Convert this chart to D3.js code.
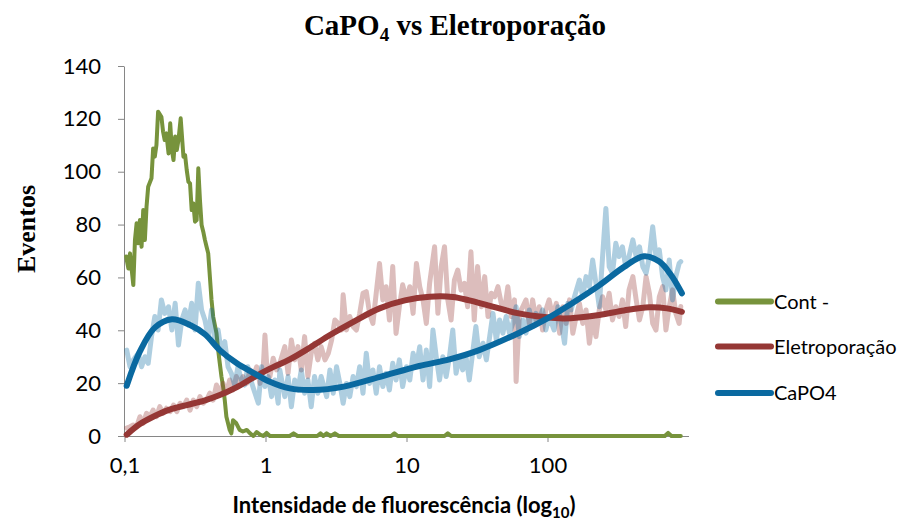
<!DOCTYPE html>
<html>
<head>
<meta charset="utf-8">
<script src="https://cdn.jsdelivr.net/npm/d3@7"></script>
<style>
  body { margin: 0; background: #fff; }
  svg { display: block; }
</style>
</head>
<body>
<div class="canvas"></div>
<script>
// channels: 256 per decade, channel 0 = 0,1
const contCh = [3,7,10,16,19,22,25,28,31,34,37,40,43,49,52,55,58,61,67,70,73,76,80,83,86,89,92,95,98,102,
  107,110,113,116,119,122,125,128,131,134,137,140,143,146,149,152,155,158,161,167,170,173,176,179,182,185,
  191,194,197,203,209,215,222,228,234,240,246,252,258,264,300,307,314,350,356,361,367,374,382,389,484,490,
  496,581,587,593,981,987,993,1010];
const contVal = [67.9,63.4,69.1,57.1,74.2,80.5,72.9,81.7,71.6,85.5,74.2,86.8,94.3,97.5,108.8,105.7,110.1,
  122.7,120.8,115.2,112.0,114.5,106.9,118.3,108.2,104.4,113.3,108.2,112.0,120.2,105.7,106.3,100.6,96.2,95.6,
  85.5,88.0,81.1,81.7,101.3,89.3,79.8,77.3,74.2,71.6,69.1,60.3,51.5,45.2,38.9,32.6,27.5,22.5,18.7,13.6,7.3,
  2.3,1.0,6.0,4.8,2.3,1.7,2.3,1.0,0,1.5,0.5,0,1.2,0,0,1,0,0,1,0,1,0,1,0,0,1,0,0,1,0,0,1.2,0,0];

const eletroCh = [4,10,16,22,28,34,40,46,52,58,64,70,76,83,89,95,101,107,113,119,125,131,137,143,149,155,
  161,167,173,179,185,191,197,203,209,215,222,228,234,240,246,252,255,258,264,270,276,
  282,291,297,303,309,315,321,327,333,339,345,351,357,364,370,376,382,388,394,397,403,409,415,421,427,433,
  439,445,451,457,463,469,475,481,487,493,499,505,512,518,524,530,536,
  542,548,554,563,569,575,581,587,593,599,605,611,617,623,629,635,641,648,654,660,666,672,678,684,690,696,
  702,708,711,717,723,729,735,741,747,753,759,765,
  771,777,784,790,796,802,808,814,820,826,832,838,844,850,856,862,868,874,880,886,892,898,904,910,916,923,
  929,935,941,947,953,959,965,971,977,983,989,995,1001,1007,1010];
const eletroVal = [3.0,3.5,4.2,3.5,7.3,4.8,8.6,7.3,9.8,7.3,11.1,8.6,10.5,9.2,11.7,9.2,12.4,11.1,13.6,9.8,
  13.6,11.1,14.9,12.4,13.6,16.2,13.6,19.3,16.2,19.9,16.2,21.2,17.4,22.5,19.9,22.5,19.9,25.0,22.5,26.2,
  19.9,26.2,38.2,27.5,22.5,29.4,25.0,
  27.5,33.8,23.7,36.3,28.8,33.8,25.0,37.6,22.5,31.3,35.1,28.8,33.8,28.8,31.3,36.3,43.9,42.6,40.1,53.4,
  40.1,45.2,41.4,40.1,46.4,54.0,54.6,46.4,42.6,54.0,65.3,51.5,56.5,43.9,64.1,38.8,48.9,57.2,51.5,56.5,
  46.4,65.3,56.5,
  51.5,42.6,57.8,71.6,46.4,64.1,71.6,51.5,43.9,59.0,62.8,55.2,57.8,48.9,69.7,43.9,64.1,48.9,60.3,45.2,
  54.0,52.7,56.5,50.2,47.7,56.5,45.2,51.5,20.6,46.4,48.9,51.5,42.6,51.5,43.9,48.9,40.1,47.7,
  51.5,45.2,50.2,38.9,48.9,42.6,51.5,38.9,45.2,50.2,42.6,47.7,35.1,45.2,37.6,47.7,52.7,47.7,54.0,43.9,
  48.9,45.2,51.5,41.4,55.3,60.3,51.5,43.9,48.9,60.3,54.0,42.6,40.1,52.7,56.5,40.1,48.9,55.3,46.4,42.6,49.0];

const capoCh = [4,10,16,25,31,37,43,49,55,61,67,73,80,86,92,98,104,110,116,122,128,134,140,146,152,158,
  164,170,176,182,188,194,200,206,212,218,224,231,237,243,249,255,261,267,273,279,
  282,291,297,303,309,315,321,327,333,339,345,351,357,367,373,379,385,391,397,403,409,415,421,427,433,439,
  445,451,457,463,469,475,481,487,493,499,505,512,518,524,530,536,
  542,548,554,560,566,572,578,584,590,596,602,608,614,620,626,632,638,644,651,657,663,669,675,681,687,693,
  699,705,711,717,723,729,735,741,747,753,759,765,
  771,780,787,793,799,805,811,817,826,832,838,844,850,856,862,868,874,880,886,892,898,904,910,916,923,929,
  935,941,947,953,959,965,971,977,983,989,995,1001,1007,1010];
const capoVal = [32.5,26.2,28.8,31.3,26.2,30.0,27.5,37.6,45.2,40.1,51.5,46.4,48.9,40.1,50.2,34.4,43.9,47.7,
  42.6,50.2,40.1,57.8,47.7,43.9,37.6,47.7,35.7,40.1,31.3,35.7,26.2,23.7,19.3,26.2,21.2,19.3,26.2,20.0,16.2,
  12.4,26.2,18.7,22.5,14.9,21.2,12.4,
  25.0,14.9,22.5,11.1,21.2,17.4,25.0,16.2,21.2,11.1,22.5,16.2,22.5,14.9,25.0,16.2,26.2,19.9,12.4,19.9,
  14.9,22.5,18.7,26.2,16.2,31.3,19.9,25.0,16.2,26.2,18.7,23.7,17.4,27.5,21.2,28.8,18.7,26.2,21.2,31.3,
  26.2,33.8,
  21.2,32.5,18.7,40.1,30.0,21.2,30.0,22.5,30.0,40.1,23.7,30.0,25.0,30.0,21.2,31.3,41.4,30.0,35.1,28.8,
  37.6,46.4,36.3,43.9,38.9,45.2,38.9,42.6,48.9,37.6,43.9,38.9,47.7,41.4,46.4,43.9,47.7,40.1,
  45.2,40.1,48.9,42.6,35.1,50.2,47.7,52.7,59.0,52.7,60.3,56.5,66.6,57.8,48.9,67.9,86.1,64.1,61.6,72.9,
  67.9,71.6,64.1,67.9,74.2,67.9,71.6,64.1,61.6,67.9,79.2,67.9,70.4,60.3,55.3,66.6,51.5,60.3,65.3,66.0];

// trend lines
const eletroTrendCh = [4,28,52,82,113,146,173,204,233,264,300,337,373,418,463,509,554,596,626,657,716,762,798,862,907,953,985,1012];
const eletroTrendVal = [0.5,4.5,7.3,10,11.7,13.5,15.5,18.5,22,25.5,29,33.5,38.2,43.5,48.3,51.3,52.7,52.6,51.3,49.6,46.4,45,44.5,45.8,47.5,48.7,48.3,47];
const capoTrendCh = [4,28,55,86,119,146,173,204,233,264,300,342,398,464,535,590,644,716,772,808,862,907,943,971,992,1012];
const capoTrendVal = [19,32,41,44.2,42,38.5,32.5,27.5,24,20.5,18,17.4,18.7,22.4,26.5,29,32.5,39,45,49.6,57,64,68,66,61,54];

const yTicks = [0,20,40,60,80,100,120,140];
const xTicks = [0.1,1,10,100];
const seriesNames = ["Cont -", "Eletroporação", "CaPO4"];
const colors = ["#77933c", "#953735", "#0a69a0"];

const svg = d3.select(".canvas").append("svg")
    .attr("width", 900)
    .attr("height", 522);

const x = d3.scaleLog().domain([0.1, 1000]).range([124.5, 688.5]);
const y = d3.scaleLinear().domain([0, 140]).range([436, 66]);
const chToI = ch => 0.1 * Math.pow(10, ch / 256);
const zip = (a, b) => a.map((c, i) => [c, b[i]]);

const line = d3.line()
    .x(d => x(chToI(d[0])))
    .y(d => y(d[1]));
const trend = d3.line()
    .curve(d3.curveCatmullRom.alpha(0.5))
    .x(d => x(chToI(d[0])))
    .y(d => y(d[1]));

// axes
const yAxis = svg.append("g")
    .attr("transform", "translate(124,0)")
    .call(d3.axisLeft(y).tickValues(yTicks).tickSize(6).tickSizeOuter(0).tickPadding(17));
const xAxis = svg.append("g")
    .attr("transform", "translate(0,436)")
    .call(d3.axisBottom(x).tickValues(xTicks).tickSize(6).tickSizeOuter(0).tickPadding(15)
        .tickFormat(d => d3.format("~g")(d).replace(".", ",")));
[yAxis, xAxis].forEach(g => {
    g.select(".domain").attr("stroke", "#868686");
    g.selectAll(".tick line").attr("stroke", "#868686");
    g.selectAll("text").attr("fill", "#000")
        .style("font-family", "Lato, 'Open Sans', sans-serif")
        .style("font-size", "22px");
});

// data lines
const plot = svg.append("g")
    .attr("fill", "none")
    .attr("stroke-linejoin", "round")
    .attr("stroke-linecap", "round");

plot.append("path")
    .attr("d", line(zip(contCh, contVal)))
    .attr("stroke", colors[0])
    .attr("stroke-width", 4);
plot.append("path")
    .attr("d", line(zip(eletroCh, eletroVal)))
    .attr("stroke", colors[1])
    .attr("stroke-opacity", 0.33)
    .attr("stroke-width", 5);
plot.append("path")
    .attr("d", line(zip(capoCh, capoVal)))
    .attr("stroke", colors[2])
    .attr("stroke-opacity", 0.33)
    .attr("stroke-width", 5);
plot.append("path")
    .attr("d", trend(zip(eletroTrendCh, eletroTrendVal)))
    .attr("stroke", colors[1])
    .attr("stroke-width", 6);
plot.append("path")
    .attr("d", trend(zip(capoTrendCh, capoTrendVal)))
    .attr("stroke", colors[2])
    .attr("stroke-width", 6);

// title
const title = svg.append("text")
    .attr("x", 455)
    .attr("y", 35)
    .attr("text-anchor", "middle")
    .style("font-family", "'Liberation Serif', 'Times New Roman', serif")
    .style("font-weight", "bold")
    .style("font-size", "29px");
title.append("tspan").text("CaPO");
title.append("tspan").attr("dy", 6).style("font-size", "19px").text("4");
title.append("tspan").attr("dy", -6).text(" vs Eletroporação");

// y title
svg.append("text")
    .attr("transform", "translate(35,229) rotate(-90)")
    .attr("text-anchor", "middle")
    .style("font-family", "'Liberation Serif', 'Times New Roman', serif")
    .style("font-weight", "bold")
    .style("font-size", "26px")
    .text("Eventos");

// x title
const xTitle = svg.append("text")
    .attr("x", 404)
    .attr("y", 513)
    .attr("text-anchor", "middle")
    .style("font-family", "Lato, 'Open Sans', sans-serif")
    .style("font-weight", "bold")
    .style("font-size", "22px");
xTitle.append("tspan").text("Intensidade de fluorescência (log");
xTitle.append("tspan").attr("dy", 5).style("font-size", "15px").text("10");
xTitle.append("tspan").attr("dy", -5).text(")");

// legend
const legend = svg.append("g");
seriesNames.forEach((name, i) => {
    const ly = [301.5, 346.5, 393][i];
    legend.append("line")
        .attr("x1", 718).attr("x2", 771)
        .attr("y1", ly).attr("y2", ly)
        .attr("stroke", colors[i])
        .attr("stroke-width", 6)
        .attr("stroke-linecap", "round");
    legend.append("text")
        .attr("x", 774)
        .attr("y", ly)
        .attr("dy", "0.35em")
        .style("font-family", "Lato, 'Open Sans', sans-serif")
        .style("font-size", "20px")
        .text(name);
});
</script>
</body>
</html>
